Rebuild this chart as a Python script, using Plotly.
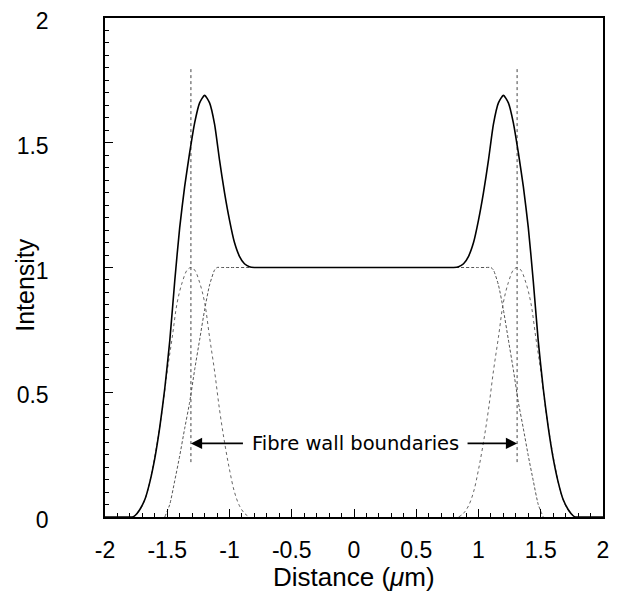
import plotly.graph_objects as go

# ---- data ----
total_x = [-2.0, -1.9, -1.78, -1.76, -1.72, -1.68, -1.64, -1.60, -1.56, -1.52, -1.48, -1.44, -1.40,
           -1.36, -1.32, -1.28, -1.24, -1.20, -1.16, -1.12, -1.08, -1.04, -1.00, -0.96, -0.92,
           -0.88, -0.84, -0.80, -0.70, -0.50, -0.25, 0.0, 0.25, 0.50, 0.70, 0.80,
           0.84, 0.88, 0.92, 0.96, 1.00, 1.04, 1.08, 1.12, 1.16, 1.20, 1.24, 1.28,
           1.32, 1.36, 1.40, 1.44, 1.48, 1.52, 1.56, 1.60, 1.64, 1.68, 1.72, 1.76, 1.78, 1.9, 2.0]
total_y = [0.0, 0.0, 0.0, 0.005, 0.03, 0.07, 0.14, 0.235, 0.36, 0.515, 0.705, 0.945, 1.16,
           1.325, 1.46, 1.58, 1.66, 1.69, 1.66, 1.575, 1.43, 1.30, 1.19, 1.10, 1.045,
           1.015, 1.003, 1.0, 1.0, 1.0, 1.0, 1.0, 1.0, 1.0, 1.0, 1.0,
           1.003, 1.015, 1.045, 1.10, 1.19, 1.30, 1.43, 1.575, 1.66, 1.69, 1.66, 1.58,
           1.46, 1.325, 1.16, 0.945, 0.705, 0.515, 0.36, 0.235, 0.14, 0.07, 0.03, 0.005, 0.0, 0.0, 0.0]

gauss_left_x = [-1.78, -1.74, -1.70, -1.66, -1.62, -1.58, -1.54, -1.50, -1.46, -1.42, -1.38, -1.34,
                -1.31, -1.28, -1.24, -1.20, -1.16, -1.12, -1.08, -1.04, -1.00, -0.96, -0.92, -0.88, -0.84]
gauss_left_y = [0.0, 0.015, 0.045, 0.10, 0.19, 0.30, 0.43, 0.585, 0.72, 0.86, 0.94, 0.99,
                1.0, 0.99, 0.94, 0.86, 0.72, 0.585, 0.43, 0.30, 0.19, 0.10, 0.045, 0.015, 0.0]
gauss_right_x = [0.84, 0.88, 0.92, 0.96, 1.00, 1.04, 1.08, 1.12, 1.16, 1.20, 1.24, 1.28,
                 1.31, 1.34, 1.38, 1.42, 1.46, 1.50, 1.54, 1.58, 1.62, 1.66, 1.70, 1.74, 1.78]
gauss_right_y = [0.0, 0.015, 0.045, 0.10, 0.19, 0.30, 0.43, 0.585, 0.72, 0.86, 0.94, 0.99,
                 1.0, 0.99, 0.94, 0.86, 0.72, 0.585, 0.43, 0.30, 0.19, 0.10, 0.045, 0.015, 0.0]

step_x = [-1.52, -1.48, -1.44, -1.40, -1.36, -1.32, -1.28, -1.24, -1.20, -1.16, -1.12, -1.10,
          -1.06, -1.0, -0.8, -0.5, -0.25, 0.0, 0.25, 0.5, 0.8, 1.0, 1.06,
          1.10, 1.12, 1.16, 1.20, 1.24, 1.28, 1.32, 1.36, 1.40, 1.44, 1.48, 1.52]
step_y = [0.0, 0.05, 0.145, 0.245, 0.355, 0.46, 0.59, 0.71, 0.83, 0.93, 0.99, 1.0,
          1.0, 1.0, 1.0, 1.0, 1.0, 1.0, 1.0, 1.0, 1.0, 1.0, 1.0,
          1.0, 0.99, 0.93, 0.83, 0.71, 0.59, 0.46, 0.355, 0.245, 0.145, 0.05, 0.0]

boundary_x = [-1.31, 1.31]
boundary_y = [0.22, 1.80]

x_tickvals = [-2, -1.5, -1, -0.5, 0, 0.5, 1, 1.5, 2]
x_ticktext = ["-2", "-1.5", "-1", "-0.5", "0", "0.5", "1", "1.5", "2"]
y_tickvals = [0, 0.5, 1, 1.5, 2]
y_ticktext = ["0", "0.5", "1", "1.5", "2"]

x_title = "Distance (<i>μ</i>m)"
y_title = "Intensity"
label_text = "Fibre wall boundaries"
label_y = 0.295

fig = go.Figure()

fig.add_trace(go.Scatter(x=gauss_left_x, y=gauss_left_y, mode="lines",
                         line=dict(color="#666", width=1, dash="dot", shape="spline")))
fig.add_trace(go.Scatter(x=gauss_right_x, y=gauss_right_y, mode="lines",
                         line=dict(color="#666", width=1, dash="dot", shape="spline")))
fig.add_trace(go.Scatter(x=step_x, y=step_y, mode="lines",
                         line=dict(color="#555", width=1, dash="3px,2px", shape="spline", smoothing=0.6)))
for bx in boundary_x:
    fig.add_trace(go.Scatter(x=[bx, bx], y=boundary_y, mode="lines",
                             line=dict(color="#444", width=1, dash="dot")))
fig.add_trace(go.Scatter(x=total_x, y=total_y, mode="lines",
                         line=dict(color="black", width=1.6, shape="spline", smoothing=0.6)))

# text label
fig.add_annotation(x=0.01, y=label_y, xref="x", yref="y", text=label_text, showarrow=False,
                   font=dict(family="DejaVu Sans", size=19.5, color="black"))
# arrows
fig.add_annotation(x=boundary_x[0], y=label_y, ax=-0.88, ay=label_y, xref="x", yref="y",
                   axref="x", ayref="y", text="", showarrow=True, arrowhead=2,
                   arrowsize=1.4, arrowwidth=1.6, arrowcolor="black")
fig.add_annotation(x=boundary_x[1], y=label_y, ax=0.90, ay=label_y, xref="x", yref="y",
                   axref="x", ayref="y", text="", showarrow=True, arrowhead=2,
                   arrowsize=1.4, arrowwidth=1.6, arrowcolor="black")

# axis titles
fig.add_annotation(x=0.5, y=-0.12, xref="paper", yref="paper", text=x_title, showarrow=False,
                   xanchor="center", yanchor="middle", font=dict(size=26, color="black"))
fig.add_annotation(x=-0.161, y=0.465, xref="paper", yref="paper", text=y_title, showarrow=False,
                   textangle=-90, xanchor="center", yanchor="middle",
                   font=dict(size=25, color="black"))

# page body has an 8px margin: compensate so the plot area lands at about x 105-603, y 18-517
fig.update_layout(
    width=613, height=595,
    margin=dict(l=97, r=18, t=10, b=86, autoexpand=False),
    paper_bgcolor="white", plot_bgcolor="white",
    showlegend=False,
    font=dict(family="Liberation Sans, Arial, sans-serif", color="black"),
)
fig.update_xaxes(
    range=[-2, 2], tickvals=x_tickvals, ticktext=x_ticktext,
    ticks="inside", ticklen=8, tickwidth=1, tickcolor="black",
    minor=dict(dtick=0.1, ticks="inside", ticklen=4, tickcolor="black"),
    showline=True, linecolor="black", linewidth=1.5, mirror=True,
    showgrid=False, zeroline=False, automargin=False, ticklabeloverflow="allow",
    tickfont=dict(size=23), ticklabelstandoff=12,
)
fig.update_yaxes(
    range=[0, 2], tickvals=y_tickvals, ticktext=y_ticktext,
    ticks="inside", ticklen=8, tickwidth=1, tickcolor="black",
    minor=dict(dtick=0.05, ticks="inside", ticklen=4, tickcolor="black"),
    showline=True, linecolor="black", linewidth=1.5, mirror=True,
    showgrid=False, zeroline=False, automargin=False, ticklabeloverflow="allow",
    tickfont=dict(size=23), ticklabelstandoff=50, ticklabelshift=3,
)

fig.write_html("out.html")
